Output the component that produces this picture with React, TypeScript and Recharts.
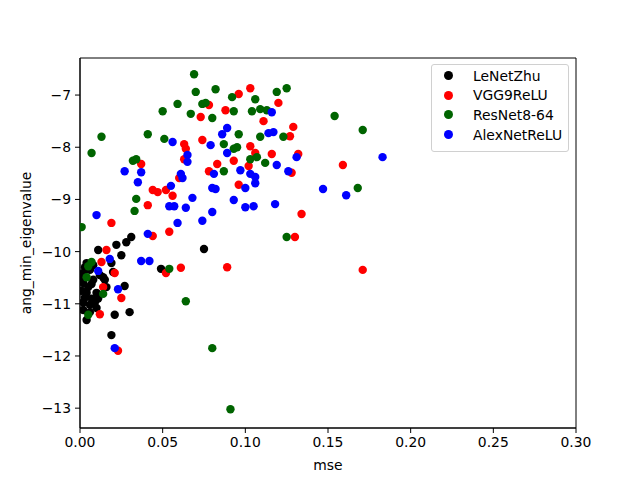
import { ScatterChart, Scatter, XAxis, YAxis, ReferenceArea, Label } from "recharts";

const xTicks = [0, 0.05, 0.1, 0.15, 0.2, 0.25, 0.3];
const yTicks = [-13, -12, -11, -10, -9, -8, -7];

const leNetZhu = [
  { x: 0.011, y: -9.97 }, { x: 0.022, y: -9.87 }, { x: 0.028, y: -9.82 }, { x: 0.031, y: -9.72 },
  { x: 0.025, y: -10.07 }, { x: 0.004, y: -10.22 }, { x: 0.019, y: -10.22 }, { x: 0.02, y: -10.39 },
  { x: 0.002, y: -10.41 }, { x: 0.002, y: -10.6 }, { x: 0.008, y: -10.54 }, { x: 0.015, y: -10.54 },
  { x: 0.014, y: -10.49 }, { x: 0.027, y: -10.66 }, { x: 0.004, y: -10.79 }, { x: 0.01, y: -10.79 },
  { x: 0.005, y: -10.68 }, { x: 0.016, y: -10.68 }, { x: 0.002, y: -10.97 }, { x: 0.009, y: -10.97 },
  { x: 0.002, y: -11.12 }, { x: 0.01, y: -11.08 }, { x: 0.021, y: -11.21 }, { x: 0.03, y: -11.16 },
  { x: 0.004, y: -11.31 }, { x: 0.019, y: -11.6 }, { x: 0.049, y: -10.33 }, { x: 0.075, y: -9.95 },
  { x: 0.006, y: -10.35 }, { x: 0.007, y: -10.9 }, { x: 0.001, y: -10.5 }, { x: 0.003, y: -10.88 },
  { x: 0.006, y: -11.02 }, { x: 0.003, y: -10.3 }, { x: 0.012, y: -10.45 }, { x: 0.008, y: -10.26 },
  { x: 0.006, y: -11.16 }, { x: 0.011, y: -10.9 }, { x: 0.001, y: -10.75 }, { x: 0.007, y: -10.62 },
];

const vgg9ReLU = [
  { x: 0.096, y: -6.98 }, { x: 0.103, y: -6.87 }, { x: 0.12, y: -7.15 }, { x: 0.078, y: -7.19 },
  { x: 0.088, y: -7.29 }, { x: 0.073, y: -7.42 }, { x: 0.111, y: -7.5 }, { x: 0.129, y: -7.61 },
  { x: 0.127, y: -7.79 }, { x: 0.074, y: -7.86 }, { x: 0.063, y: -7.94 }, { x: 0.064, y: -8.03 },
  { x: 0.103, y: -7.98 }, { x: 0.106, y: -8.11 }, { x: 0.116, y: -8.13 }, { x: 0.093, y: -8.26 },
  { x: 0.063, y: -8.23 }, { x: 0.083, y: -8.32 }, { x: 0.078, y: -8.46 }, { x: 0.102, y: -8.36 },
  { x: 0.128, y: -8.49 }, { x: 0.06, y: -8.59 }, { x: 0.096, y: -8.72 }, { x: 0.044, y: -8.82 },
  { x: 0.047, y: -8.86 }, { x: 0.052, y: -8.82 }, { x: 0.056, y: -8.93 }, { x: 0.132, y: -8.13 },
  { x: 0.159, y: -8.34 }, { x: 0.134, y: -9.28 }, { x: 0.13, y: -9.72 }, { x: 0.171, y: -10.35 },
  { x: 0.089, y: -10.3 }, { x: 0.061, y: -10.31 }, { x: 0.052, y: -10.41 }, { x: 0.054, y: -9.62 },
  { x: 0.037, y: -8.32 }, { x: 0.041, y: -9.11 }, { x: 0.044, y: -9.7 }, { x: 0.019, y: -9.45 },
  { x: 0.016, y: -9.97 }, { x: 0.013, y: -10.2 }, { x: 0.021, y: -10.41 }, { x: 0.014, y: -10.68 },
  { x: 0.025, y: -10.89 }, { x: 0.012, y: -11.2 }, { x: 0.023, y: -11.9 },
];

const resNet864 = [
  { x: 0.069, y: -6.6 }, { x: 0.07, y: -6.94 }, { x: 0.082, y: -6.89 }, { x: 0.059, y: -7.17 },
  { x: 0.05, y: -7.31 }, { x: 0.067, y: -7.36 }, { x: 0.074, y: -7.17 }, { x: 0.076, y: -7.15 },
  { x: 0.08, y: -7.44 }, { x: 0.092, y: -7.04 }, { x: 0.093, y: -7.31 }, { x: 0.106, y: -7.08 },
  { x: 0.104, y: -7.31 }, { x: 0.109, y: -7.27 }, { x: 0.113, y: -7.29 }, { x: 0.119, y: -6.94 },
  { x: 0.125, y: -6.87 }, { x: 0.096, y: -7.75 }, { x: 0.109, y: -7.8 }, { x: 0.123, y: -7.8 },
  { x: 0.051, y: -7.84 }, { x: 0.095, y: -8.0 }, { x: 0.093, y: -8.03 }, { x: 0.087, y: -7.94 },
  { x: 0.103, y: -8.23 }, { x: 0.107, y: -8.19 }, { x: 0.112, y: -8.3 }, { x: 0.087, y: -8.46 },
  { x: 0.154, y: -7.4 }, { x: 0.171, y: -7.67 }, { x: 0.168, y: -8.78 }, { x: 0.125, y: -9.72 },
  { x: 0.013, y: -7.8 }, { x: 0.007, y: -8.11 }, { x: 0.041, y: -7.75 }, { x: 0.034, y: -8.23 },
  { x: 0.032, y: -8.26 }, { x: 0.034, y: -8.99 }, { x: 0.033, y: -9.22 }, { x: 0.001, y: -9.53 },
  { x: 0.007, y: -10.2 }, { x: 0.005, y: -10.28 }, { x: 0.004, y: -10.49 }, { x: 0.014, y: -10.81 },
  { x: 0.054, y: -10.33 }, { x: 0.005, y: -11.21 }, { x: 0.064, y: -10.95 }, { x: 0.08, y: -11.85 },
  { x: 0.091, y: -13.02 },
];

const alexNetReLU = [
  { x: 0.116, y: -7.33 }, { x: 0.089, y: -7.63 }, { x: 0.086, y: -7.75 }, { x: 0.114, y: -7.73 },
  { x: 0.117, y: -7.71 }, { x: 0.056, y: -7.9 }, { x: 0.079, y: -7.96 }, { x: 0.089, y: -8.11 },
  { x: 0.065, y: -8.15 }, { x: 0.065, y: -8.28 }, { x: 0.097, y: -8.44 }, { x: 0.081, y: -8.51 },
  { x: 0.103, y: -8.51 }, { x: 0.106, y: -8.57 }, { x: 0.119, y: -8.34 }, { x: 0.126, y: -8.46 },
  { x: 0.131, y: -8.19 }, { x: 0.061, y: -8.51 }, { x: 0.062, y: -8.59 }, { x: 0.106, y: -8.69 },
  { x: 0.1, y: -8.78 }, { x: 0.08, y: -8.78 }, { x: 0.082, y: -8.8 }, { x: 0.055, y: -8.74 },
  { x: 0.068, y: -8.97 }, { x: 0.093, y: -9.01 }, { x: 0.054, y: -9.13 }, { x: 0.057, y: -9.13 },
  { x: 0.064, y: -9.16 }, { x: 0.1, y: -9.15 }, { x: 0.105, y: -9.13 }, { x: 0.118, y: -9.09 },
  { x: 0.08, y: -9.24 }, { x: 0.074, y: -9.41 }, { x: 0.059, y: -9.45 }, { x: 0.183, y: -8.19 },
  { x: 0.147, y: -8.8 }, { x: 0.161, y: -8.92 }, { x: 0.027, y: -8.46 }, { x: 0.037, y: -8.48 },
  { x: 0.035, y: -8.67 }, { x: 0.01, y: -9.3 }, { x: 0.041, y: -9.66 }, { x: 0.037, y: -10.18 },
  { x: 0.042, y: -10.18 }, { x: 0.018, y: -10.14 }, { x: 0.011, y: -10.37 }, { x: 0.023, y: -10.72 },
  { x: 0.021, y: -11.85 },
];

const series = [
  { name: "LeNetZhu", data: leNetZhu, color: "#000000" },
  { name: "VGG9ReLU", data: vgg9ReLU, color: "#ff0000" },
  { name: "ResNet8-64", data: resNet864, color: "#006400" },
  { name: "AlexNetReLU", data: alexNetReLU, color: "#0000ff" },
];

const font = "DejaVu Sans, sans-serif";
const tickStyle = { fontSize: 13.9, fill: "#000", fontFamily: font };

const dot = (color: string) => (props: any) =>
  <circle cx={props.cx} cy={props.cy} r={4.2} fill={color} />;

// legend drawn as an overlay so it doesn't eat into the plot area
function LegendBox() {
  return (
    <div
      style={{
        position: "absolute",
        left: 431,
        top: 64,
        width: 136,
        height: 86,
        border: "1px solid #d0d0d0",
        borderRadius: 3,
        background: "rgba(255,255,255,0.8)",
        fontFamily: font,
        fontSize: 13.9,
      }}
    >
      {series.map((s, i) => (
        <div key={s.name} style={{ position: "absolute", left: 0, top: 2 + i * 19.7, height: 17, display: "flex", alignItems: "center", whiteSpace: "nowrap" }}>
          <span style={{ display: "inline-block", width: 9, height: 9, borderRadius: "50%", background: s.color, marginLeft: 12 }} />
          <span style={{ marginLeft: 20, color: "#000" }}>{s.name}</span>
        </div>
      ))}
    </div>
  );
}

export default function App() {
  return (
    <div style={{ position: "absolute", left: 0, top: 0, width: 640, height: 480, background: "#fff" }}>
      <ScatterChart width={640} height={480} margin={{ top: 58, right: 64, bottom: 0, left: 0 }}>
        <XAxis
          type="number"
          dataKey="x"
          domain={[0, 0.3]}
          ticks={xTicks}
          tickFormatter={(v: number) => v.toFixed(2)}
          tick={tickStyle}
          tickSize={5}
          tickMargin={4}
          height={52}
          stroke="#000"
          allowDataOverflow
        >
          <Label value="mse" position="insideBottom" offset={10} style={{ fontSize: 13.9, fill: "#000", fontFamily: font }} />
        </XAxis>
        <YAxis
          type="number"
          dataKey="y"
          domain={[-13.38, -6.29]}
          ticks={yTicks}
          tickFormatter={(v: number) => (v < 0 ? "\u2212" + Math.abs(v) : String(v))}
          tick={tickStyle}
          tickSize={5}
          tickMargin={4}
          width={80}
          stroke="#000"
          allowDataOverflow
        >
          <Label value="ang_min_eigenvalue" angle={-90} position="insideLeft" offset={26} style={{ fontSize: 13.9, fill: "#000", fontFamily: font, textAnchor: "middle" }} />
        </YAxis>
        <ReferenceArea x1={0} x2={0.3} y1={-13.38} y2={-6.29} fill="none" stroke="#000" strokeWidth={1} />
        {series.map((s) => (
          <Scatter key={s.name} name={s.name} data={s.data} fill={s.color} shape={dot(s.color)} isAnimationActive={false} />
        ))}
      </ScatterChart>
      <LegendBox />
    </div>
  );
}
